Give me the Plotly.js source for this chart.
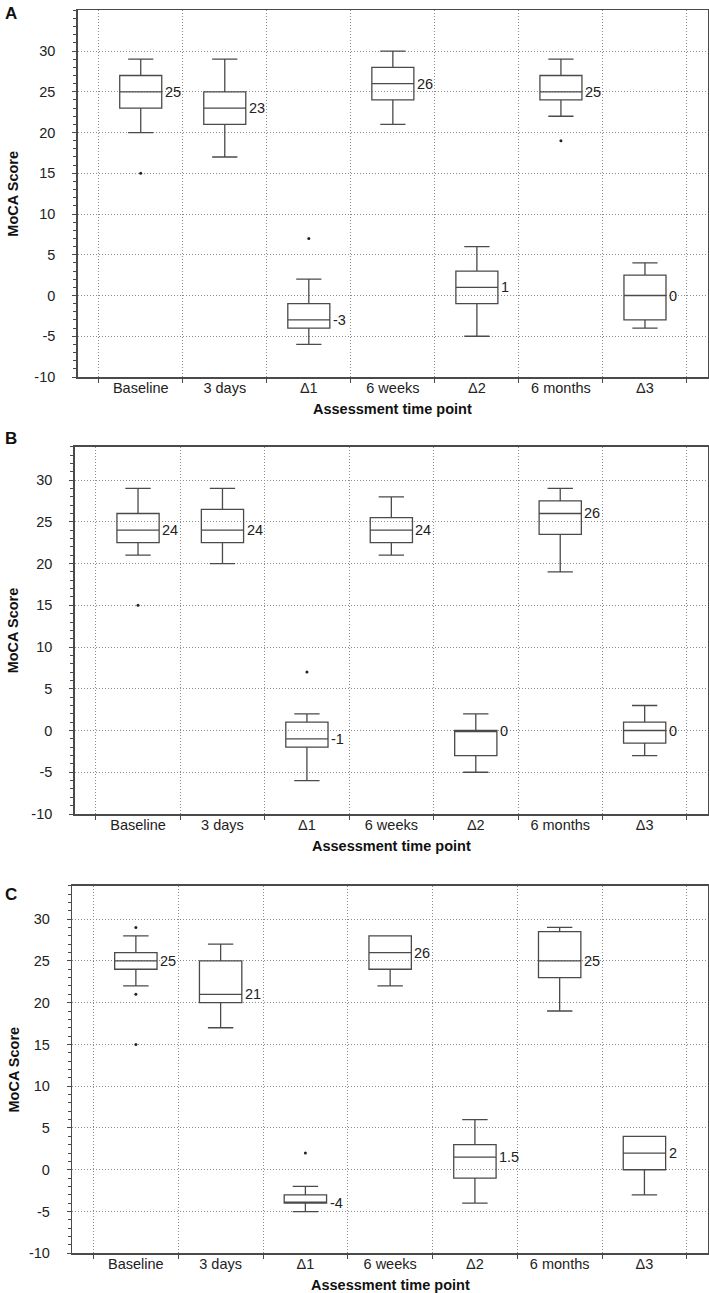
<!DOCTYPE html>
<html>
<head>
<meta charset="utf-8">
<script src="https://cdn.plot.ly/plotly-3.0.1.min.js"></script>
<style>html,body{margin:0;padding:0;background:#fff;}#chart{width:709px;height:1293px;}</style>
</head>
<body>
<div id="chart"></div>
<script>
// ---------- data ----------
const categories = ['Baseline', '3 days', 'Δ1', '6 weeks', 'Δ2', '6 months', 'Δ3'];

const yTickVals = [-10, -5, 0, 5, 10, 15, 20, 25, 30];
const yTickText = ['-10', '-5', '0', '5', '10', '15', '20', '25', '30'];

// Panel A
const aUpper  = [29, 29,  2, 30,  6, 29,  4];
const aQ3     = [27, 25, -1, 28,  3, 27,  2.5];
const aMedian = [25, 23, -3, 26,  1, 25,  0];
const aQ1     = [23, 21, -4, 24, -1, 24, -3];
const aLower  = [20, 17, -6, 21, -5, 22, -4];
const aOutX   = ['Baseline', 'Δ1', '6 months'];
const aOutY   = [15, 7, 19];
const aLabels = ['25', '23', '-3', '26', '1', '25', '0'];

// Panel B
const bUpper  = [29, 29,    2, 28,    2, 29,    3];
const bQ3     = [26, 26.5,  1, 25.5,  0, 27.5,  1];
const bMedian = [24, 24,   -1, 24,    0, 26,    0];
const bQ1     = [22.5, 22.5, -2, 22.5, -3, 23.5, -1.5];
const bLower  = [21, 20,   -6, 21,   -5, 19,   -3];
const bOutX   = ['Baseline', 'Δ1'];
const bOutY   = [15, 7];
const bLabels = ['24', '24', '-1', '24', '0', '26', '0'];

// Panel C
const cUpper  = [28, 27, -2, 28, 6,   29,   4];
const cQ3     = [26, 25, -3, 28, 3,   28.5, 4];
const cMedian = [25, 21, -4, 26, 1.5, 25,   2];
const cQ1     = [24, 20, -4, 24, -1,  23,   0];
const cLower  = [22, 17, -5, 22, -4,  19,  -3];
const cOutX   = ['Baseline', 'Baseline', 'Baseline', 'Δ1'];
const cOutY   = [29, 21, 15, 2];
const cLabels = ['25', '21', '-4', '26', '1.5', '25', '2'];

const panelLetters = ['A', 'B', 'C'];
const yTitle = 'MoCA Score';
const xTitle = 'Assessment time point';

// ---------- styling / layout ----------
const W = 709, H = 1293;
const FONT = 'Liberation Sans, Arial, Helvetica, sans-serif';
const LINE = '#4a4a4a';
const GRID = '#8c8c8c';
const FS = 14.5;

const panels = [
  {up: aUpper, q3: aQ3, med: aMedian, q1: aQ1, lo: aLower, ox: aOutX, oy: aOutY, lab: aLabels,
   left: 77.7, top: 10.3, bottom: 377, ymax: 35, letterY: 13},
  {up: bUpper, q3: bQ3, med: bMedian, q1: bQ1, lo: bLower, ox: bOutX, oy: bOutY, lab: bLabels,
   left: 74.7, top: 446.7, bottom: 814, ymax: 34, letterY: 439},
  {up: cUpper, q3: cQ3, med: cMedian, q1: cQ1, lo: cLower, ox: cOutX, oy: cOutY, lab: cLabels,
   left: 72.3, top: 885.7, bottom: 1253.3, ymax: 34, letterY: 894}
];
const RIGHT = 708;

const traces = [];
const layout = {
  width: W, height: H,
  margin: {l: 0, r: 0, t: 0, b: 0},
  paper_bgcolor: '#fff', plot_bgcolor: '#fff',
  showlegend: false,
  font: {family: FONT, size: FS, color: '#222'},
  annotations: []
};

panels.forEach((p, i) => {
  const n = i === 0 ? '' : String(i + 1);
  const xa = 'x' + n, ya = 'y' + n;
  traces.push({
    type: 'box', xaxis: xa, yaxis: ya,
    x: categories,
    q1: p.q1, median: p.med, q3: p.q3,
    lowerfence: p.lo, upperfence: p.up,
    boxpoints: false,
    width: 0.5,
    whiskerwidth: 0.6,
    fillcolor: 'rgba(255,255,255,0)',
    line: {color: LINE, width: 1.3},
    hoverinfo: 'skip'
  });
  traces.push({
    type: 'scatter', mode: 'markers', xaxis: xa, yaxis: ya,
    x: p.ox, y: p.oy,
    marker: {size: 3, color: '#222'},
    hoverinfo: 'skip'
  });

  layout['xaxis' + n] = {
    domain: [p.left / W, RIGHT / W],
    anchor: ya,
    type: 'category',
    categoryorder: 'array', categoryarray: categories,
    range: [-0.75, 6.75],
    tickson: 'boundaries',
    ticks: 'outside', ticklen: 4, tickcolor: LINE, tickwidth: 1,
    showgrid: true, gridcolor: GRID, griddash: '1px,2px', gridwidth: 1,
    showline: true, linecolor: LINE, linewidth: 1.5, mirror: true,
    tickfont: {family: FONT, size: FS, color: '#222'},
    ticklabelstandoff: -3,
    fixedrange: true
  };
  layout['yaxis' + n] = {
    domain: [1 - p.bottom / H, 1 - p.top / H],
    anchor: xa,
    range: [-10, p.ymax],
    tickmode: 'array', tickvals: yTickVals, ticktext: yTickText,
    ticks: 'outside', ticklen: 4, tickcolor: LINE, tickwidth: 1,
    minor: {tickmode: 'linear', tick0: 0, dtick: 1, ticks: 'outside', ticklen: 3,
            tickcolor: LINE, tickwidth: 1, showgrid: false},
    showgrid: true, gridcolor: GRID, griddash: '1px,2px', gridwidth: 1,
    zeroline: false,
    showline: true, linecolor: LINE, linewidth: 1.5, mirror: true,
    tickfont: {family: FONT, size: FS, color: '#222'},
    ticklabelstandoff: 14,
    fixedrange: true
  };

  // median labels
  p.lab.forEach((t, k) => {
    layout.annotations.push({
      xref: xa, yref: ya, x: k + 0.25, y: p.med[k],
      text: t, showarrow: false, xanchor: 'left', yanchor: 'middle',
      xshift: 1, font: {family: FONT, size: FS, color: '#222'}
    });
  });

  // axis titles and panel letter
  layout.annotations.push({
    xref: 'paper', yref: 'paper', x: 13 / W, y: 1 - ((p.top + p.bottom) / 2) / H,
    text: '<b>' + yTitle + '</b>', textangle: -90, showarrow: false,
    xanchor: 'center', yanchor: 'middle', font: {family: FONT, size: 14.5, color: '#111'}
  });
  layout.annotations.push({
    xref: 'paper', yref: 'paper', x: ((p.left + RIGHT) / 2) / W, y: 1 - (p.bottom + 32) / H,
    text: '<b>' + xTitle + '</b>', showarrow: false,
    xanchor: 'center', yanchor: 'middle', font: {family: FONT, size: 14.5, color: '#111'}
  });
  layout.annotations.push({
    xref: 'paper', yref: 'paper', x: 3 / W, y: 1 - p.letterY / H,
    text: '<b>' + panelLetters[i] + '</b>', showarrow: false,
    xanchor: 'left', yanchor: 'middle', font: {family: FONT, size: 17, color: '#111'}
  });
});

Plotly.newPlot('chart', traces, layout, {displayModeBar: false, staticPlot: true});
</script>
</body>
</html>
